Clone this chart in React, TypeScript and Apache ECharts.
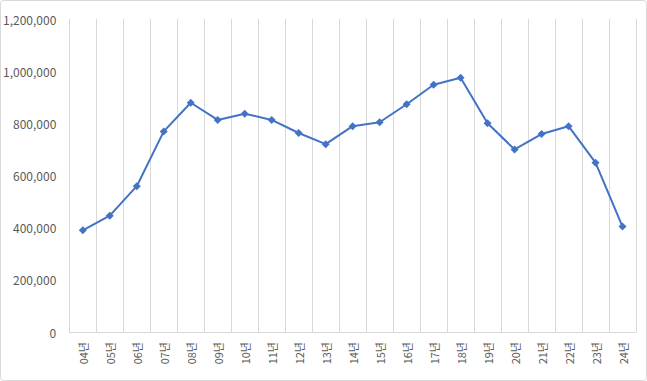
import React, { useEffect, useRef } from "react";
import * as echarts from "echarts";

const categories = ["04년", "05년", "06년", "07년", "08년", "09년", "10년", "11년", "12년", "13년", "14년", "15년", "16년", "17년", "18년", "19년", "20년", "21년", "22년", "23년", "24년"];
const values = [390000, 446000, 559000, 769000, 879000, 813000, 837000, 813000, 763000, 720000, 789000, 804000, 873000, 948000, 975000, 800000, 700000, 759000, 789000, 649000, 404000];
const yMin = 0;
const yMax = 1200000;
const yInterval = 200000;

export default function App() {
  const ref = useRef<HTMLDivElement>(null);
  useEffect(() => {
    if (!ref.current) return;
    const chart = echarts.init(ref.current, undefined, { renderer: "svg" });
    const font = "'Noto Sans CJK KR', 'Noto Sans', sans-serif";
    chart.setOption({
      animation: false,
      backgroundColor: "#ffffff",
      grid: { left: 68, right: 11, top: 19, bottom: 49, containLabel: false },
      graphic: [
        {
          type: "rect",
          shape: { x: 0.5, y: 0.5, width: 646, height: 380, r: 3 },
          style: { fill: "none", stroke: "#d9d9d9", lineWidth: 1 },
          silent: true,
        },
      ],
      xAxis: {
        type: "category",
        data: categories,
        boundaryGap: true,
        axisLine: { show: true, lineStyle: { color: "#d9d9d9", width: 1 } },
        axisTick: { show: false },
        splitLine: { show: true, lineStyle: { color: "#d9d9d9", width: 1 } },
        axisLabel: {
          rotate: 90,
          interval: 0,
          margin: 10,
          color: "#595959",
          fontSize: 11,
          fontFamily: font,
        },
      },
      yAxis: {
        type: "value",
        min: yMin,
        max: yMax,
        interval: yInterval,
        axisLine: { show: false },
        axisTick: { show: false },
        splitLine: { show: false },
        axisLabel: {
          margin: 13,
          color: "#595959",
          fontSize: 12,
          fontFamily: font,
          formatter: (v: number) => v.toLocaleString("en-US"),
        },
      },
      series: [
        {
          type: "line",
          data: values,
          symbol: "diamond",
          symbolSize: 8,
          lineStyle: { color: "#4472C4", width: 2 },
          itemStyle: { color: "#4472C4" },
        },
      ],
    });
    return () => chart.dispose();
  }, []);
  return (
    <div
      ref={ref}
      style={{ position: "fixed", left: 0, top: 0, width: 647, height: 381 }}
    />
  );
}
